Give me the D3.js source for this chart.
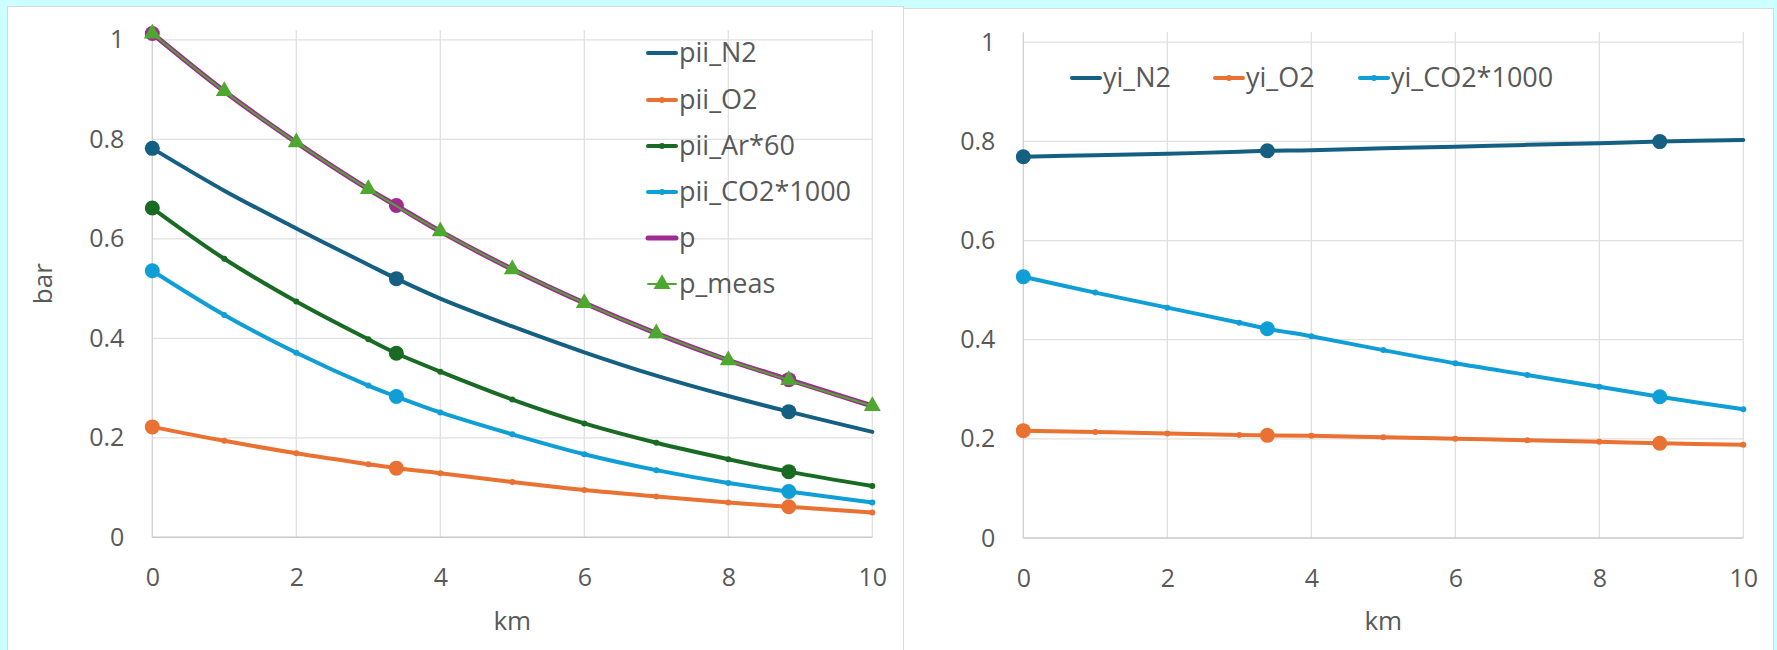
<!DOCTYPE html>
<html>
<head>
<meta charset="utf-8">
<script src="https://cdn.jsdelivr.net/npm/d3@7/dist/d3.min.js"></script>
<style>
	body { margin: 0; background: #ccffff; }
	svg { display: block; }
	text { font-family: "Open Sans", "Liberation Sans", sans-serif; fill: #595959; }
</style>
</head>
<body>
<div id="chart"></div>
<script>

// km points of the computed series (3.39 and 8.84 carry the big markers)
const km = [0, 1, 2, 3, 3.39, 4, 5, 6, 7, 8, 8.84, 10];
const kmMeas = [0, 1, 2, 3, 4, 5, 6, 7, 8, 8.84, 10];
const kmBig = [0, 3.39, 8.84];

// left chart, partial pressures in bar
const piiN2 = [0.782, 0.697, 0.621, 0.548, 0.520, 0.480, 0.424, 0.372, 0.325, 0.284, 0.2526, 0.212];
const piiO2 = [0.222, 0.194, 0.169, 0.147, 0.139, 0.129, 0.111, 0.095, 0.082, 0.070, 0.0615, 0.050];
const piiAr60 = [0.662, 0.560, 0.474, 0.398, 0.370, 0.333, 0.277, 0.229, 0.190, 0.157, 0.132, 0.103];
const piiCO2k = [0.536, 0.447, 0.371, 0.305, 0.283, 0.251, 0.207, 0.167, 0.135, 0.109, 0.092, 0.070];
const pTotal = [1.013, 0.897, 0.794, 0.700, 0.667, 0.615, 0.539, 0.471, 0.410, 0.356, 0.317, 0.264];
const pMeas = [1.013, 0.897, 0.794, 0.700, 0.615, 0.539, 0.471, 0.410, 0.356, 0.316, 0.264];

// right chart, mole fractions
const yiN2 = [0.769, 0.772, 0.775, 0.779, 0.781, 0.782, 0.786, 0.789, 0.793, 0.796, 0.7995, 0.803];
const yiO2 = [0.2165, 0.2138, 0.211, 0.2078, 0.207, 0.2061, 0.203, 0.2003, 0.197, 0.194, 0.191, 0.188];
const yiCO2k = [0.527, 0.495, 0.4646, 0.4343, 0.4222, 0.4068, 0.379, 0.3524, 0.3288, 0.3052, 0.285, 0.2596];

const xTicks = [0, 2, 4, 6, 8, 10];
const yTicks = [0, 0.2, 0.4, 0.6, 0.8, 1];

const colors = {
	n2 : "#156082",
	o2 : "#E97132",
	ar : "#196B24",
	co2 : "#0F9ED5",
	p : "#A02B93",
	meas : "#4EA72E"
};

const leftSeries = [
	{name : "pii_N2", x : km, y : piiN2, color : colors.n2, width : 4, dots : false, big : true},
	{name : "pii_O2", x : km, y : piiO2, color : colors.o2, width : 4, dots : true, big : true},
	{name : "pii_Ar*60", x : km, y : piiAr60, color : colors.ar, width : 4, dots : true, big : true},
	{name : "pii_CO2*1000", x : km, y : piiCO2k, color : colors.co2, width : 4, dots : true, big : true},
	{name : "p", x : km, y : pTotal, color : colors.p, width : 5, dots : false, big : true},
	{name : "p_meas", x : kmMeas, y : pMeas, color : colors.meas, width : 2, triangles : true}
];

const rightSeries = [
	{name : "yi_N2", x : km, y : yiN2, color : colors.n2, width : 4, dots : false, big : true},
	{name : "yi_O2", x : km, y : yiO2, color : colors.o2, width : 4, dots : true, big : true},
	{name : "yi_CO2*1000", x : km, y : yiCO2k, color : colors.co2, width : 4, dots : true, big : true}
];

const width = 1777, height = 650;

const svg = d3.select("#chart").append("svg")
	.attr("width", width)
	.attr("height", height);

// white chart panels
svg.append("rect")
	.attr("x", 7.5).attr("y", 6.5)
	.attr("width", 896).attr("height", 660)
	.attr("fill", "#fff").attr("stroke", "#d9d9d9");
svg.append("rect")
	.attr("x", 903.5).attr("y", 8.5)
	.attr("width", 870).attr("height", 660)
	.attr("fill", "#fff").attr("stroke", "#d9d9d9");

function drawPanel(series, frame, legend){
	let x = d3.scaleLinear().domain([0, 10]).range([frame.left, frame.right]);
	let y = d3.scaleLinear().domain([0, 1.02]).range([frame.bottom, frame.top]);

	let g = svg.append("g");

	// grid
	g.selectAll("line.hgrid")
		.data(yTicks.slice(1))
		.enter().append("line")
		.attr("x1", frame.left).attr("x2", frame.right)
		.attr("y1", d => y(d)).attr("y2", d => y(d))
		.attr("stroke", "#e0e0e0").attr("stroke-width", 1.3);

	g.selectAll("line.vgrid")
		.data(xTicks.slice(1))
		.enter().append("line")
		.attr("x1", d => x(d)).attr("x2", d => x(d))
		.attr("y1", frame.top).attr("y2", frame.bottom)
		.attr("stroke", "#e0e0e0").attr("stroke-width", 1.3);

	// axis lines
	g.append("line")
		.attr("x1", x(0)).attr("x2", x(0))
		.attr("y1", frame.top).attr("y2", y(0))
		.attr("stroke", "#d0d0d0").attr("stroke-width", 1.3);
	g.append("line")
		.attr("x1", x(0)).attr("x2", x(10))
		.attr("y1", y(0)).attr("y2", y(0))
		.attr("stroke", "#c8c8c8").attr("stroke-width", 1.5);

	// tick labels
	let yAxis = g.append("g")
		.attr("transform", `translate(${frame.left},0)`)
		.call(d3.axisLeft(y).tickValues(yTicks).tickSize(0).tickPadding(28).tickFormat(d => String(d)));
	let xAxis = g.append("g")
		.attr("transform", `translate(0,${y(0)})`)
		.call(d3.axisBottom(x).tickValues(xTicks).tickSize(0).tickFormat(d => String(d)));

	[yAxis, xAxis].forEach(a => {
		a.select(".domain").remove();
		a.selectAll("text")
			.attr("fill", "#595959")
			.style("font-size", "25px");
	});
	xAxis.selectAll("text").attr("y", 49).attr("dy", null);

	// axis titles
	g.append("text")
		.attr("x", (frame.left + frame.right) / 2)
		.attr("y", 630)
		.attr("text-anchor", "middle")
		.style("font-size", "26px")
		.text("km");

	if(frame.yTitle){
		g.append("text")
			.attr("transform", `translate(52,${(frame.top + frame.bottom) / 2}) rotate(-90)`)
			.attr("text-anchor", "middle")
			.style("font-size", "26px")
			.text(frame.yTitle);
	}

	// series
	let line = d3.line()
		.x(d => x(d[0]))
		.y(d => y(d[1]))
		.curve(d3.curveCatmullRom.alpha(0.5));

	let triangle = d3.symbol().type(d3.symbolTriangle).size(125);

	series.forEach(s => {
		let pts = s.x.map((v, i) => [v, s.y[i]]);
		let sg = g.append("g");

		sg.append("path")
			.attr("d", line(pts))
			.attr("fill", "none")
			.attr("stroke", s.color)
			.attr("stroke-width", s.width)
			.attr("stroke-linejoin", "round")
			.attr("stroke-linecap", "round");

		if(s.dots){
			sg.selectAll("circle.dot")
				.data(pts)
				.enter().append("circle")
				.attr("cx", d => x(d[0]))
				.attr("cy", d => y(d[1]))
				.attr("r", 3)
				.attr("fill", s.color);
		}

		if(s.big){
			sg.selectAll("circle.big")
				.data(pts.filter(d => kmBig.includes(d[0])))
				.enter().append("circle")
				.attr("cx", d => x(d[0]))
				.attr("cy", d => y(d[1]))
				.attr("r", 7.5)
				.attr("fill", s.color);
		}

		if(s.triangles){
			sg.selectAll("path.tri")
				.data(pts)
				.enter().append("path")
				.attr("d", triangle)
				.attr("transform", d => `translate(${x(d[0])},${y(d[1])})`)
				.attr("fill", s.color);
		}
	});

	// legend
	series.forEach((s, i) => {
		let lx = legend.x[i], ly = legend.y[i];
		let lg = g.append("g").attr("transform", `translate(${lx},${ly})`);

		lg.append("line")
			.attr("x1", 0).attr("x2", 28)
			.attr("stroke", s.color)
			.attr("stroke-width", s.width)
			.attr("stroke-linecap", "round");

		if(s.dots){
			lg.append("circle").attr("cx", 14).attr("r", 3).attr("fill", s.color);
		}
		if(s.triangles){
			lg.append("path")
				.attr("d", triangle)
				.attr("transform", "translate(14,0)")
				.attr("fill", s.color);
		}

		lg.append("text")
			.attr("x", 31)
			.attr("dy", "0.35em")
			.style("font-size", "27px")
			.text(s.name);
	});
}

drawPanel(leftSeries,
	{left : 152.3, right : 872.3, top : 30, bottom : 537.3, yTitle : "bar"},
	{x : [648, 648, 648, 648, 648, 648], y : [53, 100, 146, 192, 238, 284]});

drawPanel(rightSeries,
	{left : 1023.3, right : 1743.3, top : 32.3, bottom : 538},
	{x : [1072, 1215, 1360], y : [78, 78, 78]});

</script>
</body>
</html>
